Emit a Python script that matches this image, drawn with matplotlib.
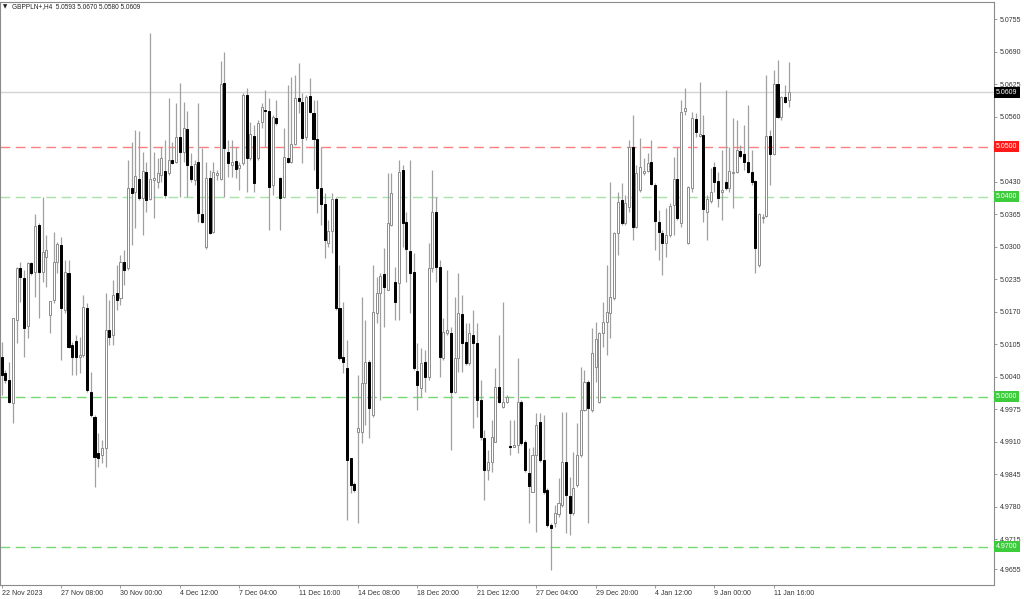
import numpy as np
import matplotlib
matplotlib.use("Agg")
import matplotlib.pyplot as plt
import matplotlib.transforms as mtransforms

# GBPPLN+ H4 candles, 22 Nov 2023 .. 11 Jan 2024
opens = [
    5.0080, 5.0048, 5.0034, 4.9988, 5.0154, 5.0258, 5.0238, 5.0142, 5.0268, 5.0250,
    5.0344, 5.0250, 5.0280, 5.0164, 5.0194, 5.0270, 5.0304, 5.0174, 5.0248, 5.0104,
    5.0112, 5.0080, 5.0084, 5.0178, 5.0010, 4.9960, 4.9888, 4.9884, 4.9898, 5.0134,
    5.0124, 5.0208, 5.0198, 5.0270, 5.0258, 5.0418, 5.0410, 5.0436, 5.0398, 5.0450,
    5.0396, 5.0434, 5.0430, 5.0444, 5.0452, 5.0448, 5.0474, 5.0470, 5.0520, 5.0490,
    5.0536, 5.0462, 5.0434, 5.0470, 5.0366, 5.0300, 5.0438, 5.0330, 5.0444, 5.0436,
    5.0628, 5.0490, 5.0464, 5.0472, 5.0458, 5.0468, 5.0604, 5.0478, 5.0522, 5.0478,
    5.0550, 5.0574, 5.0572, 5.0424, 5.0558, 5.0438, 5.0400, 5.0478, 5.0470, 5.0506,
    5.0598, 5.0590, 5.0520, 5.0602, 5.0568, 5.0516, 5.0418, 5.0386, 5.0308, 5.0332,
    5.0396, 5.0178, 5.0080, 5.0058, 4.9878, 4.9826, 4.9930, 4.9930, 5.0028, 5.0070,
    4.9964, 5.0168, 5.0208, 5.0246, 5.0214, 5.0344, 5.0230, 5.0228, 5.0454, 5.0350,
    5.0292, 5.0250, 5.0052, 5.0018, 5.0070, 5.0040, 5.0258, 5.0370, 5.0260, 5.0078,
    5.0128, 5.0128, 5.0010, 5.0078, 5.0166, 5.0110, 5.0068, 5.0124, 5.0108, 4.9994,
    4.9918, 4.9854, 4.9870, 4.9910, 5.0020, 4.9980, 4.9990, 4.9902, 4.9900, 4.9904,
    4.9990, 4.9910, 4.9848, 4.9810, 4.9884, 4.9950, 4.9874, 4.9814, 4.9744, 4.9748,
    4.9766, 4.9784, 4.9870, 4.9802, 4.9768, 4.9824, 4.9884, 4.9974, 5.0030, 4.9974,
    5.0060, 4.9990, 5.0128, 5.0150, 5.0168, 5.0198, 5.0328, 5.0394, 5.0348, 5.0380,
    5.0500, 5.0340, 5.0414, 5.0448, 5.0452, 5.0470, 5.0424, 5.0350, 5.0328, 5.0308,
    5.0324, 5.0384, 5.0436, 5.0348, 5.0572, 5.0308, 5.0418, 5.0556, 5.0522, 5.0524,
    5.0370, 5.0392, 5.0460, 5.0432, 5.0410, 5.0430, 5.0418, 5.0448, 5.0450, 5.0492,
    5.0486, 5.0470, 5.0450, 5.0432, 5.0264, 5.0358, 5.0362, 5.0522, 5.0486, 5.0626,
    5.0560, 5.0600, 5.0593,
]
highs = [
    5.0110, 5.0054, 5.0070, 5.0158, 5.0260, 5.0270, 5.0254, 5.0270, 5.0270, 5.0366,
    5.0348, 5.0400, 5.0324, 5.0192, 5.0330, 5.0310, 5.0320, 5.0274, 5.0274, 5.0110,
    5.0124, 5.0120, 5.0204, 5.0188, 5.0050, 4.9964, 4.9928, 4.9914, 5.0208, 5.0194,
    5.0234, 5.0264, 5.0284, 5.0294, 5.0474, 5.0510, 5.0534, 5.0532, 5.0490, 5.0470,
    5.0728, 5.0490, 5.0478, 5.0500, 5.0514, 5.0598, 5.0510, 5.0588, 5.0628, 5.0590,
    5.0572, 5.0488, 5.0474, 5.0588, 5.0498, 5.0470, 5.0454, 5.0470, 5.0454, 5.0672,
    5.0690, 5.0514, 5.0514, 5.0500, 5.0470, 5.0608, 5.0618, 5.0550, 5.0544, 5.0554,
    5.0588, 5.0614, 5.0598, 5.0564, 5.0594, 5.0440, 5.0538, 5.0624, 5.0640, 5.0644,
    5.0668, 5.0608, 5.0604, 5.0638, 5.0594, 5.0594, 5.0500, 5.0408, 5.0354, 5.0408,
    5.0400, 5.0264, 5.0190, 5.0114, 4.9878, 4.9830, 5.0044, 5.0200, 5.0154, 5.0074,
    5.0264, 5.0240, 5.0248, 5.0298, 5.0448, 5.0448, 5.0260, 5.0474, 5.0464, 5.0370,
    5.0474, 5.0288, 5.0108, 5.0098, 5.0094, 5.0308, 5.0454, 5.0400, 5.0274, 5.0158,
    5.0254, 5.0140, 5.0200, 5.0248, 5.0204, 5.0148, 5.0148, 5.0174, 5.0148, 5.0034,
    4.9934, 4.9894, 4.9954, 5.0058, 5.0124, 5.0190, 5.0004, 4.9954, 4.9954, 5.0078,
    4.9994, 4.9914, 4.9898, 4.9900, 4.9968, 4.9968, 4.9964, 4.9818, 4.9748, 4.9784,
    4.9838, 4.9970, 4.9970, 4.9840, 4.9890, 4.9948, 5.0060, 5.0054, 5.0034, 5.0138,
    5.0150, 5.0130, 5.0190, 5.0264, 5.0430, 5.0330, 5.0410, 5.0428, 5.0404, 5.0514,
    5.0564, 5.0464, 5.0518, 5.0478, 5.0488, 5.0514, 5.0428, 5.0374, 5.0334, 5.0378,
    5.0388, 5.0480, 5.0500, 5.0594, 5.0618, 5.0422, 5.0570, 5.0568, 5.0630, 5.0564,
    5.0404, 5.0458, 5.0470, 5.0450, 5.0494, 5.0614, 5.0500, 5.0558, 5.0554, 5.0504,
    5.0544, 5.0584, 5.0494, 5.0434, 5.0368, 5.0366, 5.0644, 5.0534, 5.0654, 5.0674,
    5.0602, 5.0624, 5.0670,
]
lows = [
    5.0004, 5.0028, 4.9988, 4.9948, 5.0108, 5.0190, 5.0080, 5.0118, 5.0244, 5.0200,
    5.0158, 5.0230, 5.0220, 5.0128, 5.0188, 5.0248, 5.0074, 5.0168, 5.0098, 5.0044,
    5.0044, 5.0048, 5.0080, 5.0010, 4.9960, 4.9820, 4.9860, 4.9868, 4.9860, 5.0104,
    5.0104, 5.0174, 5.0184, 5.0224, 5.0254, 5.0304, 5.0338, 5.0394, 5.0324, 5.0370,
    5.0394, 5.0358, 5.0418, 5.0430, 5.0398, 5.0444, 5.0466, 5.0468, 5.0400, 5.0470,
    5.0400, 5.0430, 5.0424, 5.0350, 5.0348, 5.0296, 5.0326, 5.0328, 5.0434, 5.0434,
    5.0400, 5.0440, 5.0440, 5.0438, 5.0414, 5.0464, 5.0410, 5.0474, 5.0410, 5.0474,
    5.0538, 5.0500, 5.0334, 5.0404, 5.0544, 5.0334, 5.0398, 5.0468, 5.0468, 5.0504,
    5.0568, 5.0468, 5.0514, 5.0568, 5.0454, 5.0368, 5.0344, 5.0278, 5.0300, 5.0288,
    5.0174, 5.0074, 5.0048, 4.9754, 4.9808, 4.9810, 4.9748, 4.9908, 4.9944, 4.9918,
    4.9960, 5.0148, 4.9994, 5.0140, 5.0214, 5.0342, 5.0154, 5.0154, 5.0300, 5.0230,
    5.0168, 5.0054, 4.9974, 5.0000, 5.0010, 5.0034, 5.0250, 5.0230, 5.0040, 5.0074,
    5.0124, 4.9894, 5.0008, 5.0050, 5.0050, 5.0064, 5.0064, 4.9938, 4.9960, 4.9914,
    4.9794, 4.9834, 4.9850, 4.9910, 4.9988, 4.9978, 4.9988, 4.9884, 4.9900, 4.9888,
    4.9904, 4.9850, 4.9748, 4.9810, 4.9730, 4.9870, 4.9806, 4.9740, 4.9654, 4.9740,
    4.9760, 4.9780, 4.9728, 4.9724, 4.9764, 4.9820, 4.9880, 4.9972, 4.9748, 4.9970,
    5.0030, 4.9988, 5.0100, 5.0084, 5.0118, 5.0194, 5.0284, 5.0344, 5.0344, 5.0370,
    5.0314, 5.0338, 5.0410, 5.0444, 5.0450, 5.0424, 5.0294, 5.0274, 5.0244, 5.0280,
    5.0320, 5.0324, 5.0354, 5.0340, 5.0564, 5.0306, 5.0410, 5.0520, 5.0520, 5.0350,
    5.0314, 5.0388, 5.0410, 5.0380, 5.0354, 5.0414, 5.0410, 5.0378, 5.0448, 5.0478,
    5.0454, 5.0448, 5.0424, 5.0248, 5.0260, 5.0348, 5.0360, 5.0424, 5.0484, 5.0558,
    5.0554, 5.0588, 5.0580,
]
closes = [
    5.0044, 5.0034, 4.9990, 5.0158, 5.0258, 5.0240, 5.0138, 5.0268, 5.0248, 5.0342,
    5.0250, 5.0290, 5.0294, 5.0192, 5.0270, 5.0306, 5.0178, 5.0250, 5.0100, 5.0080,
    5.0080, 5.0084, 5.0180, 5.0014, 4.9964, 4.9880, 4.9878, 4.9898, 5.0134, 5.0120,
    5.0204, 5.0194, 5.0270, 5.0254, 5.0418, 5.0408, 5.0442, 5.0398, 5.0452, 5.0394,
    5.0436, 5.0438, 5.0448, 5.0478, 5.0404, 5.0474, 5.0468, 5.0520, 5.0490, 5.0538,
    5.0464, 5.0436, 5.0466, 5.0368, 5.0350, 5.0438, 5.0328, 5.0450, 5.0448, 5.0626,
    5.0498, 5.0468, 5.0470, 5.0456, 5.0464, 5.0604, 5.0478, 5.0526, 5.0428, 5.0548,
    5.0580, 5.0572, 5.0420, 5.0560, 5.0548, 5.0398, 5.0480, 5.0470, 5.0506, 5.0598,
    5.0592, 5.0518, 5.0600, 5.0570, 5.0516, 5.0418, 5.0386, 5.0314, 5.0332, 5.0396,
    5.0178, 5.0078, 5.0070, 4.9874, 4.9824, 4.9814, 4.9938, 5.0028, 5.0070, 4.9978,
    5.0170, 5.0208, 5.0242, 5.0220, 5.0348, 5.0408, 5.0190, 5.0450, 5.0348, 5.0296,
    5.0248, 5.0058, 5.0024, 5.0068, 5.0040, 5.0258, 5.0370, 5.0260, 5.0080, 5.0130,
    5.0134, 5.0010, 5.0078, 5.0168, 5.0108, 5.0068, 5.0128, 5.0108, 4.9994, 4.9920,
    4.9854, 4.9870, 4.9920, 5.0020, 4.9990, 4.9990, 5.0000, 4.9900, 4.9904, 4.9990,
    4.9908, 4.9854, 4.9822, 4.9884, 4.9944, 4.9874, 4.9810, 4.9744, 4.9738, 4.9768,
    4.9788, 4.9870, 4.9804, 4.9768, 4.9818, 4.9884, 4.9974, 5.0030, 4.9978, 5.0088,
    5.0116, 5.0128, 5.0150, 5.0170, 5.0200, 5.0328, 5.0390, 5.0348, 5.0388, 5.0500,
    5.0340, 5.0448, 5.0460, 5.0452, 5.0468, 5.0426, 5.0352, 5.0330, 5.0308, 5.0324,
    5.0382, 5.0436, 5.0358, 5.0570, 5.0578, 5.0420, 5.0558, 5.0530, 5.0526, 5.0376,
    5.0396, 5.0410, 5.0430, 5.0398, 5.0414, 5.0418, 5.0452, 5.0450, 5.0494, 5.0482,
    5.0470, 5.0450, 5.0430, 5.0298, 5.0366, 5.0360, 5.0522, 5.0486, 5.0626, 5.0560,
    5.0600, 5.0590, 5.0609,
]

date_labels = ["22 Nov 2023", "27 Nov 08:00", "30 Nov 00:00", "4 Dec 12:00", "7 Dec 04:00",
               "11 Dec 16:00", "14 Dec 08:00", "18 Dec 20:00", "21 Dec 12:00", "27 Dec 04:00",
               "29 Dec 20:00", "4 Jan 12:00", "9 Jan 00:00", "11 Jan 16:00"]
bars_per_label = 16

price_ticks = [5.0755, 5.0690, 5.0625, 5.0560, 5.0430, 5.0365, 5.0300, 5.0235,
               5.0170, 5.0105, 5.0040, 4.9975, 4.9910, 4.9845, 4.9780, 4.9715, 4.9655]

# horizontal levels: price, line colour, tag colour
levels = [
    (5.0500, "#ff8080", "#ff1a1a"),
    (5.0400, "#a6e3a6", "#3ccc3c"),
    (5.0000, "#74d874", "#3ccc3c"),
    (4.9700, "#74d874", "#3ccc3c"),
]
bid = closes[-1]

o = np.array(opens)
h = np.array(highs)
l = np.array(lows)
c = np.array(closes)
x = np.arange(len(o))
up = c >= o

plt.rcParams["font.family"] = ["Liberation Sans", "DejaVu Sans"]

fig = plt.figure(figsize=(10.24, 5.99), dpi=100)
ax = fig.add_axes([0.0, 14 / 599, 994 / 1024, 583 / 599])

# levels and bid line
for price, lc, _ in levels:
    ax.axhline(price, color=lc, lw=1.0, dashes=(7, 4), zorder=1)
ax.axhline(bid, color="#d4d4d4", lw=1.0, zorder=1)

# candles
ax.vlines(x, l, h, color="#a0a0a0", lw=0.9, zorder=2)
ax.bar(x[up], c[up] - o[up], bottom=o[up], width=0.55,
       facecolor="white", edgecolor="#8c8c8c", lw=0.7, zorder=3)
ax.bar(x[~up], c[~up] - o[~up], bottom=o[~up], width=0.55,
       facecolor="black", edgecolor="black", lw=0.7, zorder=3)

spacing = 3.712  # px per bar
ax.set_xlim(-1.7 / spacing, -1.7 / spacing + 994 / spacing)
ax.set_ylim(5.07936 - 585 / 5000, 5.07936 - 2 / 5000)

for s in ax.spines.values():
    s.set_color("#8a8a8a")
    s.set_linewidth(0.8)

ax.yaxis.tick_right()
ax.set_yticks(price_ticks)
ax.set_yticklabels([f"{p:.4f}" for p in price_ticks])
ax.tick_params(axis="y", which="both", length=2.5, width=0.6, color="#8a8a8a",
               labelsize=5, labelcolor="#333333", pad=1.5)

ax.set_xticks(np.arange(len(date_labels)) * bars_per_label)
ax.set_xticklabels(date_labels, ha="left")
ax.tick_params(axis="x", length=2.5, width=0.6, color="#8a8a8a",
               labelsize=5, labelcolor="#333333", pad=0.8)

# price tags on the right axis
trans = mtransforms.blended_transform_factory(ax.transAxes, ax.transData)
for price, _, tc in levels:
    ax.text(1.002, price, f"{price:.4f}", transform=trans, ha="left", va="center",
            fontsize=5, color="white", clip_on=False, zorder=5,
            bbox=dict(boxstyle="square,pad=0.3", facecolor=tc, edgecolor="none"))
ax.text(1.002, bid, f"{bid:.4f}", transform=trans, ha="left", va="center",
        fontsize=5, color="white", clip_on=False, zorder=5,
        bbox=dict(boxstyle="square,pad=0.3", facecolor="black", edgecolor="none"))

fig.text(3 / 1024, 1 - 7 / 599, "\u25bc", fontsize=4, va="center", ha="left",
         color="#222222", family="DejaVu Sans")
fig.text(12 / 1024, 1 - 7 / 599,
         f"GBPPLN+,H4  {opens[-1]:.4f} {highs[-1]:.4f} {lows[-1]:.4f} {closes[-1]:.4f}",
         fontsize=4.7, va="center", ha="left", color="#222222")

fig.savefig("out.png", dpi=100, facecolor="white")
